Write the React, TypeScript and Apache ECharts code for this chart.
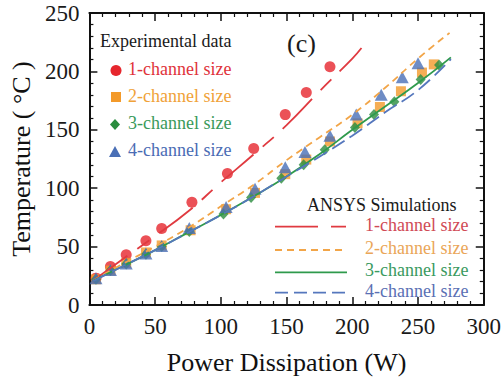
import React, { useEffect, useRef } from "react";
import * as echarts from "echarts";

// Experimental data (Power W, Temperature °C)
const exp1X = [5, 16, 28, 43, 55, 78, 105, 125, 149, 165, 183];
const exp1Y = [23, 33, 43, 55, 65.5, 88, 112.5, 134, 163, 182, 204];
const exp2X = [5, 16, 28, 43, 55, 77, 104, 126, 149, 165, 183, 204, 221, 237, 253, 262];
const exp2Y = [22, 29.5, 36, 45, 51, 64, 82, 96, 112, 124.5, 140, 155.5, 169.5, 183, 199, 206];
const exp3X = [5, 16, 28, 43, 55, 76, 102, 123, 146, 163, 179, 202, 216.5, 232, 252, 266];
const exp3Y = [22, 29.5, 35, 43.5, 50, 63, 78, 92, 108.5, 120, 133, 152, 163, 174, 193, 205.5];
const exp4X = [5, 16, 28, 43, 55, 76, 104, 126, 149, 164, 183, 203, 222, 238, 250];
const exp4Y = [23, 30, 35.5, 44, 50.5, 66, 84, 99.5, 118, 131, 145, 163, 180, 195, 207];

// ANSYS simulations
const sim1X = [3, 25, 50, 75, 100, 125, 150, 175, 200, 207];
const sim1Y = [21, 39, 59, 80, 105, 129, 154, 183, 211, 220];
const sim2X = [3, 25, 50, 75, 100, 125, 150, 175, 200, 225, 250, 274];
const sim2Y = [21, 35, 50, 66, 84.5, 103, 124, 143.5, 163, 186, 211, 233];
const sim3X = [3, 25, 50, 75, 100, 125, 150, 175, 200, 225, 250, 275];
const sim3Y = [21, 33, 47, 62, 77, 93, 110, 129, 150, 170, 190, 212];
const sim4X = [3, 25, 50, 75, 100, 125, 150, 175, 200, 225, 250, 275];
const sim4Y = [20.5, 33, 47, 62, 77, 93, 110, 127, 145, 165, 184, 210.5];

const seriesNames = ["1-channel size", "2-channel size", "3-channel size", "4-channel size"];
const xMin = 0, xMax = 300, xStep = 50;
const yMin = 0, yMax = 250, yStep = 50;

const RED = "#e6262d";
const ORANGE = "#f39a2a";
const GREEN = "#2a8c3e";
const BLUE = "#4a6fb6";
const FONT = "'Liberation Serif', 'Times New Roman', 'DejaVu Serif', serif";

const zip = (xs: number[], ys: number[]) => xs.map((x, i) => [x, ys[i]]);

export default function App() {
  const ref = useRef<HTMLDivElement>(null);
  useEffect(() => {
    if (!ref.current) return;
    const chart = echarts.init(ref.current, undefined, { renderer: "svg" });
    const axisLine = { show: true, onZero: false, lineStyle: { color: "#111", width: 2 } };
    const tick = { show: true, inside: true, length: 8, lineStyle: { color: "#111", width: 1.5 } };
    const minor = { show: true, splitNumber: 5, length: 4, lineStyle: { color: "#111", width: 1.2 } };
    const label = { color: "#1a1a1a", fontFamily: FONT, fontSize: 23 };

    const legendText = (x: number, y: number, text: string, color: string) => ({
      type: "text", left: x, top: y - 11,
      style: { text, fill: color, fontFamily: FONT, fontSize: 18 },
    });
    const legendLine = (y: number, color: string, dash: number[] | null) => ({
      type: "line",
      shape: { x1: 275, y1: y, x2: 347, y2: y },
      style: { stroke: color, lineWidth: 1.8, lineDash: dash || undefined },
    });

    chart.setOption({
      animation: false,
      textStyle: { fontFamily: FONT },
      grid: { left: 82, right: 12, top: 13, bottom: 72 },
      xAxis: [
        {
          type: "value", min: xMin, max: xMax, interval: xStep,
          name: "Power Dissipation (W)", nameLocation: "middle", nameGap: 44,
          nameTextStyle: { color: "#111", fontFamily: FONT, fontSize: 26 },
          axisLine, axisTick: tick, minorTick: minor,
          axisLabel: { ...label, margin: 10 }, splitLine: { show: false },
        },
        {
          type: "value", position: "top", min: xMin, max: xMax, interval: xStep,
          axisLine, axisTick: tick, minorTick: minor,
          axisLabel: { show: false }, splitLine: { show: false },
        },
      ],
      yAxis: [
        {
          type: "value", min: yMin, max: yMax, interval: yStep,
          name: "Temperature ( °C )", nameLocation: "middle", nameGap: 47, nameRotate: 90,
          nameTextStyle: { color: "#111", fontFamily: FONT, fontSize: 26 },
          axisLine, axisTick: tick, minorTick: minor,
          axisLabel: { ...label, margin: 10 }, splitLine: { show: false },
        },
        {
          type: "value", position: "right", min: yMin, max: yMax, interval: yStep,
          axisLine, axisTick: tick, minorTick: minor,
          axisLabel: { show: false }, splitLine: { show: false },
        },
      ],
      series: [
        {
          name: "sim " + seriesNames[0], type: "line", data: zip(sim1X, sim1Y), smooth: true,
          symbol: "none", lineStyle: { color: "#e03a40", width: 1.8, type: [42, 12, 15, 12] },
        },
        {
          name: "sim " + seriesNames[1], type: "line", data: zip(sim2X, sim2Y), smooth: true,
          symbol: "none", lineStyle: { color: "#f2a548", width: 1.8, type: [7, 5] },
        },
        {
          name: "sim " + seriesNames[2], type: "line", data: zip(sim3X, sim3Y), smooth: true,
          symbol: "none", lineStyle: { color: "#2f9a4c", width: 1.8, type: "solid" },
        },
        {
          name: "sim " + seriesNames[3], type: "line", data: zip(sim4X, sim4Y), smooth: true,
          symbol: "none", lineStyle: { color: "#5577bd", width: 1.8, type: [15, 6] },
        },
        {
          name: seriesNames[0], type: "scatter", data: zip(exp1X, exp1Y),
          symbol: "circle", symbolSize: 11, itemStyle: { color: RED },
        },
        {
          name: seriesNames[1], type: "scatter", data: zip(exp2X, exp2Y),
          symbol: "rect", symbolSize: 10, itemStyle: { color: ORANGE },
        },
        {
          name: seriesNames[2], type: "scatter", data: zip(exp3X, exp3Y),
          symbol: "diamond", symbolSize: [10, 11], itemStyle: { color: GREEN },
        },
        {
          name: seriesNames[3], type: "scatter", data: zip(exp4X, exp4Y),
          symbol: "triangle", symbolSize: [13, 12], itemStyle: { color: BLUE },
        },
      ],
      graphic: [
        { type: "text", left: 100, top: 32, style: { text: "Experimental data", fill: "#1a1a1a", fontFamily: FONT, fontSize: 18 } },
        { type: "circle", shape: { cx: 116, cy: 70.5, r: 5.5 }, style: { fill: RED } },
        { type: "rect", shape: { x: 111, y: 92, width: 10, height: 10 }, style: { fill: ORANGE } },
        { type: "polygon", shape: { points: [[115, 119], [120, 124.5], [115, 130], [110, 124.5]] }, style: { fill: GREEN } },
        { type: "polygon", shape: { points: [[115, 146], [121, 157], [109, 157]] }, style: { fill: BLUE } },
        legendText(128, 70.5, seriesNames[0], "#e0323a"),
        legendText(128, 97.5, seriesNames[1], "#f0a238"),
        legendText(128, 124.5, seriesNames[2], "#3a9a5a"),
        legendText(128, 152, seriesNames[3], "#4a6cb4"),
        { type: "text", left: 287, top: 30, style: { text: "(c)", fill: "#1a1a1a", fontFamily: FONT, fontSize: 26 } },
        { type: "text", left: 307, top: 196, style: { text: "ANSYS Simulations", fill: "#1a1a1a", fontFamily: FONT, fontSize: 18 } },
        legendLine(226.7, "#e03a40", [43, 13, 15, 13]),
        legendLine(250, "#f2a548", [7, 5]),
        legendLine(272.3, "#2f9a4c", null),
        legendLine(292.7, "#5577bd", [13, 6]),
        legendText(365, 226.7, seriesNames[0], "#d04a55"),
        legendText(365, 250, seriesNames[1], "#eaa658"),
        legendText(365, 272.3, seriesNames[2], "#3a9a60"),
        legendText(365, 292.7, seriesNames[3], "#5a70b4"),
      ],
    });
    return () => chart.dispose();
  }, []);
  return <div ref={ref} style={{ width: 504, height: 380, position: "absolute", left: 0, top: 0 }} />;
}
